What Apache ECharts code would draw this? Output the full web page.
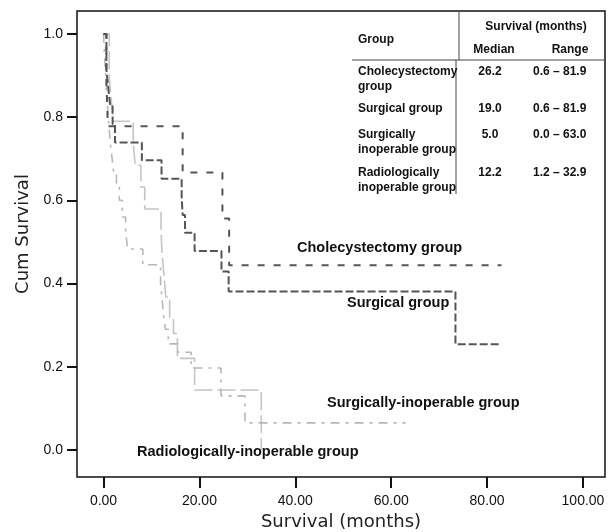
<!DOCTYPE html>
<html>
<head>
<meta charset="utf-8">
<script src="https://cdn.jsdelivr.net/npm/echarts@6/dist/echarts.min.js"></script>
<style>
html,body{margin:0;padding:0;background:#fff;}
#chart{width:610px;height:532px;}
</style>
</head>
<body>
<div id="chart"></div>
<script>
// ---- Data (Kaplan-Meier step points: time in months, cumulative survival) ----
const cholT = [0, 0.6, 0.9, 16.5, 24.8, 26.2, 83.0];
const cholS = [1.0, 0.889, 0.778, 0.667, 0.556, 0.444, 0.444];

const surgT = [0, 0.6, 1.0, 1.4, 1.9, 2.4, 8.0, 12.1, 16.3, 16.5, 17.0, 19.0, 24.6, 26.1, 73.4, 83.0];
const surgS = [1.0, 0.913, 0.870, 0.826, 0.783, 0.739, 0.696, 0.652, 0.609, 0.565, 0.522, 0.478, 0.429, 0.381, 0.254, 0.254];

const sinopT = [0, 0.3, 0.6, 1.0, 1.4, 1.8, 2.1, 2.7, 3.3, 3.9, 4.6, 5.0, 8.2, 11.9, 12.2, 12.5, 12.9, 13.5, 15.5, 18.3, 24.5, 29.5, 63.0];
const sinopS = [1.0, 0.93, 0.87, 0.80, 0.74, 0.70, 0.67, 0.64, 0.60, 0.56, 0.53, 0.483, 0.445, 0.40, 0.365, 0.325, 0.29, 0.255, 0.235, 0.197, 0.13, 0.065, 0.065];

const rinopT = [0, 1.2, 1.6, 2.0, 6.2, 6.6, 7.8, 8.6, 12.0, 12.2, 12.6, 13.0, 13.8, 14.6, 15.4, 19.0, 32.9];
const rinopS = [1.0, 0.895, 0.842, 0.79, 0.737, 0.684, 0.632, 0.579, 0.526, 0.474, 0.421, 0.368, 0.316, 0.28, 0.22, 0.144, 0.0];

const xTicks = [0, 20, 40, 60, 80, 100];
const yTicks = [0, 0.2, 0.4, 0.6, 0.8, 1.0];

const tableHeader = ['Group', 'Survival (months)', 'Median', 'Range'];
const tableGroups = [['Cholecystectomy', 'group'], ['Surgical group'], ['Surgically', 'inoperable group'], ['Radiologically', 'inoperable group']];
const tableMedian = ['26.2', '19.0', '5.0', '12.2'];
const tableRange = ['0.6 \u2013 81.9', '0.6 \u2013 81.9', '0.0 \u2013 63.0', '1.2 \u2013 32.9'];

const curveLabels = ['Cholecystectomy group', 'Surgical group', 'Surgically-inoperable group', 'Radiologically-inoperable group'];

// ---- Build ----
function pts(T, S) { return T.map((t, i) => [t, S[i]]); }

const chart = echarts.init(document.getElementById('chart'), null, {renderer: 'canvas'});

const tFont = 'bold 12px "Liberation Sans", Arial, sans-serif';
const lFont = 'bold 14.5px "Liberation Sans", Arial, sans-serif';
const graphics = [];
function txt(x, y, text, font, align) {
  graphics.push({type: 'text', x: x, y: y, z: 100,
    style: {text: text, font: font, fill: '#111', textAlign: align || 'left', textVerticalAlign: 'middle'}});
}
function ln(x1, y1, x2, y2) {
  graphics.push({type: 'line', z: 100, shape: {x1: x1, y1: y1, x2: x2, y2: y2}, style: {stroke: '#444', lineWidth: 1}});
}
// table
ln(459, 12, 459, 60);
ln(352, 60, 606, 60);
ln(456, 60, 456, 194);
txt(358, 40, tableHeader[0], tFont);
txt(536, 27, tableHeader[1], tFont, 'center');
txt(494, 50, tableHeader[2], tFont, 'center');
txt(570, 50, tableHeader[3], tFont, 'center');
const rowY = [[72, 87], [109], [135, 150], [173, 188]];
tableGroups.forEach((g, i) => {
  g.forEach((line, j) => txt(358, rowY[i][j], line, tFont));
  txt(490, rowY[i][0], tableMedian[i], tFont, 'center');
  txt(533, rowY[i][0], tableRange[i], tFont);
});
// curve labels
txt(297, 248, curveLabels[0], lFont);
txt(347, 303, curveLabels[1], lFont);
txt(327, 403, curveLabels[2], lFont);
txt(137, 452, curveLabels[3], lFont);

const option = {
  backgroundColor: '#fff',
  animation: false,
  grid: {left: 77, right: 5, top: 11, bottom: 55, show: true, borderColor: '#111', borderWidth: 1.5,
    backgroundColor: 'transparent', containLabel: false, outerBoundsMode: 'none'},
  xAxis: {
    type: 'value', min: -5.53, max: 104.59,
    name: 'Survival (months)', nameLocation: 'middle', nameGap: 36,
    nameTextStyle: {fontFamily: 'DejaVu Sans', fontSize: 18, color: '#222'},
    axisLine: {show: false, onZero: false},
    splitLine: {show: false},
    axisTick: {show: true, customValues: xTicks, length: 11, lineStyle: {color: '#111', width: 2}},
    axisLabel: {customValues: xTicks, margin: 17, fontFamily: 'Liberation Sans', fontSize: 14, color: '#111',
      formatter: v => v.toFixed(2)}
  },
  yAxis: {
    type: 'value', min: -0.065, max: 1.055,
    name: 'Cum Survival', nameLocation: 'middle', nameGap: 44,
    nameTextStyle: {fontFamily: 'DejaVu Sans', fontSize: 18, color: '#222', padding: [0, 0, 0, 20]},
    axisLine: {show: false, onZero: false},
    splitLine: {show: false},
    axisTick: {show: true, customValues: yTicks, length: 10, lineStyle: {color: '#111', width: 2}},
    axisLabel: {customValues: yTicks, margin: 14, fontFamily: 'Liberation Sans', fontSize: 14, color: '#111',
      formatter: v => v.toFixed(1)}
  },
  series: [
    {name: curveLabels[3], type: 'line', step: 'end', symbol: 'none', data: pts(rinopT, rinopS),
      lineStyle: {color: '#c4c4c4', width: 1.6, type: [18, 5]}},
    {name: curveLabels[2], type: 'line', step: 'end', symbol: 'none', data: pts(sinopT, sinopS),
      lineStyle: {color: '#b8b8b8', width: 1.6, type: [9, 6, 3, 6]}},
    {name: curveLabels[1], type: 'line', step: 'end', symbol: 'none', data: pts(surgT, surgS),
      lineStyle: {color: '#555', width: 2, type: [8, 3]}},
    {name: curveLabels[0], type: 'line', step: 'end', symbol: 'none', data: pts(cholT, cholS),
      lineStyle: {color: '#555', width: 2, type: [7, 9]}}
  ],
  graphic: graphics
};
chart.setOption(option);
</script>
</body>
</html>
